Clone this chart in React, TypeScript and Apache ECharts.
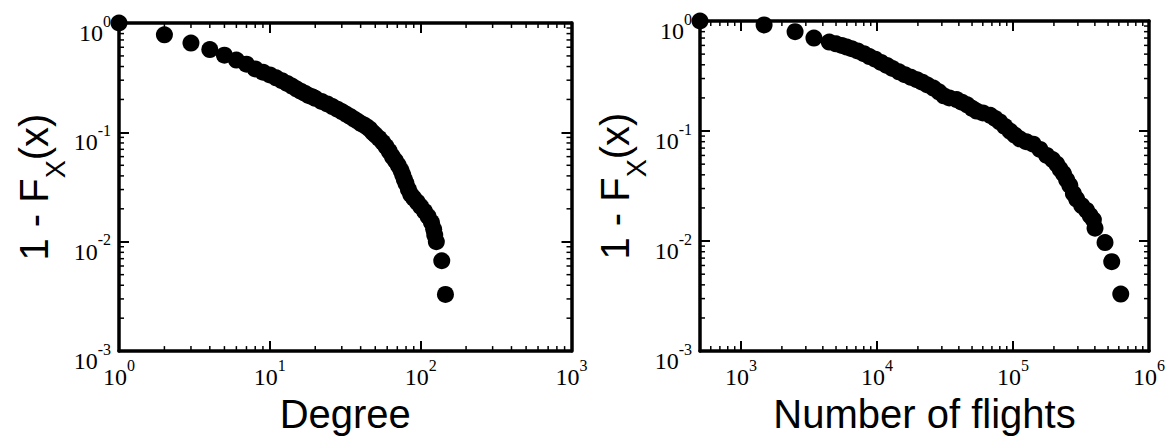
import React, { useEffect, useRef } from "react";
import * as echarts from "echarts";

// ---- data ----
const degreeValues = [
  1, 2, 3, 4, 5, 6, 7, 8, 9, 10, 11, 12, 13, 14, 15, 16, 17, 18, 19, 20, 22, 24, 26, 28, 30, 32, 34, 36, 38,
  40, 42, 44, 46, 48, 50, 53, 56, 59, 62, 65, 68, 71, 74, 76, 78, 80, 83, 86, 90, 95, 100, 106, 112, 118,
  122, 124, 127, 138, 146,
];
const degreeCcdf = [
  1.0, 0.78, 0.655, 0.572, 0.508, 0.458, 0.42, 0.38, 0.355, 0.335, 0.315, 0.297, 0.28, 0.265, 0.25, 0.238,
  0.228, 0.218, 0.212, 0.205, 0.192, 0.182, 0.172, 0.163, 0.155, 0.147, 0.14, 0.133, 0.127, 0.121, 0.117,
  0.112, 0.107, 0.1, 0.095, 0.088, 0.081, 0.074, 0.067, 0.06, 0.055, 0.05, 0.045, 0.041, 0.037, 0.034, 0.03,
  0.027, 0.025, 0.023, 0.021, 0.019, 0.017, 0.015, 0.013, 0.0115, 0.01, 0.0067, 0.0033,
];

const flightValues = [
  500, 1480, 2500, 3440, 4460, 5000, 5500, 6000, 6500, 7200, 8000, 8800, 9700, 10700, 11800, 13000, 14500,
  16000, 17800, 19600, 21500, 23500, 26000, 28500, 31000, 34000, 38500, 42000, 46000, 50000, 54000, 60000,
  68000, 74000, 80000, 87000, 95000, 103000, 112000, 125000, 141000, 158000, 177000, 195000, 210000, 222000,
  235000, 248000, 262000, 278000, 294000, 320000, 348000, 370000, 390000, 401000, 475000, 532000, 620000,
];
const flightCcdf = [
  1.0, 0.92, 0.8, 0.7, 0.643, 0.62, 0.6, 0.58, 0.56, 0.535, 0.505, 0.475, 0.45, 0.42, 0.395, 0.37, 0.345,
  0.325, 0.308, 0.293, 0.278, 0.262, 0.246, 0.227, 0.209, 0.2, 0.193, 0.183, 0.173, 0.161, 0.152, 0.146,
  0.139, 0.13, 0.121, 0.11, 0.1, 0.092, 0.085, 0.08, 0.076, 0.068, 0.06, 0.055, 0.05, 0.045, 0.041, 0.036,
  0.032, 0.027, 0.024, 0.021, 0.019, 0.017, 0.0156, 0.0131, 0.0097, 0.0065, 0.0033,
];

// axis ranges
const leftXRange = [1, 1000];
const rightXRange = [500, 1000000];
const yRange = [0.001, 1];

const xTitleLeft = "Degree";
const xTitleRight = "Number of flights";

// minor tick values (2..9 within each decade of an axis range)
function minorTicks(lo: number, hi: number): number[] {
  const out: number[] = [];
  const multipliers = [2, 3, 4, 5, 6, 7, 8, 9];
  for (let e = Math.floor(Math.log10(lo)); e < Math.ceil(Math.log10(hi)); e++) {
    for (const m of multipliers) {
      const v = m * Math.pow(10, e);
      if (v > lo * 1.0001 && v < hi * 0.9999) out.push(v);
    }
  }
  return out;
}

const serif = "'Liberation Serif', 'Times New Roman', serif";
const sans = "'Liberation Sans', Arial, sans-serif";

function powLabel(v: number): string {
  const l = Math.log10(v);
  const e = Math.round(l);
  if (Math.abs(l - e) > 1e-6) return "";
  return `{b|10}{s|${e}}`;
}

const labelRich = {
  b: { fontFamily: serif, fontSize: 24, color: "#000", lineHeight: 32, verticalAlign: "bottom" },
  s: { fontFamily: serif, fontSize: 16, color: "#000", lineHeight: 12, verticalAlign: "top" },
};

const axisLineStyle = { color: "#000", width: 3.5 };
const majorTick = { show: true, inside: true, length: 10, lineStyle: { color: "#000", width: 2 } };

function makeXAxes(grid: number, range: number[], title: string) {
  const base = {
    gridIndex: grid,
    type: "log",
    logBase: 10,
    min: range[0],
    max: range[1],
    splitLine: { show: false },
    axisLine: { show: true, onZero: false, lineStyle: axisLineStyle },
    axisTick: majorTick,
  };
  return [
    {
      ...base,
      position: "bottom",
      axisLabel: { formatter: powLabel, rich: labelRich, margin: 6, showMinLabel: true, showMaxLabel: true },
      name: title,
      nameLocation: "middle",
      nameGap: 32,
      nameTextStyle: { fontFamily: sans, fontSize: 40, color: "#000" },
    },
    { ...base, position: "top", axisLabel: { show: false } },
  ];
}

const yTitleRich = {
  m: { fontFamily: sans, fontSize: 40, color: "#000", lineHeight: 40, verticalAlign: "top" },
  s: { fontFamily: sans, fontSize: 27, color: "#000", lineHeight: 56, verticalAlign: "bottom" },
};

function makeYAxes(grid: number) {
  const base = {
    gridIndex: grid,
    type: "log",
    logBase: 10,
    min: yRange[0],
    max: yRange[1],
    splitLine: { show: false },
    axisLine: { show: true, onZero: false, lineStyle: axisLineStyle },
    axisTick: majorTick,
  };
  return [
    {
      ...base,
      position: "left",
      axisLabel: {
        formatter: powLabel,
        rich: labelRich,
        margin: 8,
        padding: [12, 0, 0, 0],
        showMinLabel: true,
        showMaxLabel: true,
      },
      name: "{m|1 - F}{s|X}{m|(x)}",
      nameLocation: "middle",
      nameGap: 44,
      nameTextStyle: { rich: yTitleRich },
    },
    { ...base, position: "right", axisLabel: { show: false } },
  ];
}

function minorTickSeries(grid: number, xr: number[]) {
  const data: number[][] = [];
  const xRef = xr[0] * 2;
  const yRef = 0.5;
  for (const v of minorTicks(xr[0], xr[1])) data.push([v, yRef, 0]);
  for (const v of minorTicks(yRange[0], yRange[1])) data.push([xRef, v, 1]);
  return {
    type: "custom",
    xAxisIndex: grid * 2,
    yAxisIndex: grid * 2,
    silent: true,
    z: 1,
    data,
    renderItem: (params: any, api: any) => {
      const cs = params.coordSys;
      const pt = api.coord([api.value(0), api.value(1)]);
      const style = { stroke: "#000", lineWidth: 1.5 };
      const len = 5;
      if (api.value(2) === 0) {
        return {
          type: "group",
          children: [
            { type: "line", shape: { x1: pt[0], y1: cs.y + cs.height, x2: pt[0], y2: cs.y + cs.height - len }, style },
            { type: "line", shape: { x1: pt[0], y1: cs.y, x2: pt[0], y2: cs.y + len }, style },
          ],
        };
      }
      return {
        type: "group",
        children: [
          { type: "line", shape: { x1: cs.x, y1: pt[1], x2: cs.x + len, y2: pt[1] }, style },
          { type: "line", shape: { x1: cs.x + cs.width, y1: pt[1], x2: cs.x + cs.width - len, y2: pt[1] }, style },
        ],
      };
    },
  };
}

export default function App() {
  const ref = useRef<HTMLDivElement>(null);
  useEffect(() => {
    if (!ref.current) return;
    const chart = echarts.init(ref.current, null, { renderer: "svg" });
    const option: any = {
      animation: false,
      backgroundColor: "#fff",
      grid: [
        { left: 119, top: 23, width: 452.5, height: 334 },
        { left: 700, top: 21, width: 449, height: 333 },
      ],
      xAxis: [...makeXAxes(0, leftXRange, xTitleLeft), ...makeXAxes(1, rightXRange, xTitleRight)],
      yAxis: [...makeYAxes(0), ...makeYAxes(1)],
      series: [
        minorTickSeries(0, leftXRange),
        minorTickSeries(1, rightXRange),
        {
          type: "scatter",
          xAxisIndex: 0,
          yAxisIndex: 0,
          symbol: "circle",
          symbolSize: 17,
          itemStyle: { color: "#000", opacity: 1 },
          z: 3,
          data: degreeValues.map((d, i) => [d, degreeCcdf[i]]),
        },
        {
          type: "scatter",
          xAxisIndex: 2,
          yAxisIndex: 2,
          symbol: "circle",
          symbolSize: 17,
          itemStyle: { color: "#000", opacity: 1 },
          z: 3,
          data: flightValues.map((d, i) => [d, flightCcdf[i]]),
        },
      ],
    };
    chart.setOption(option);
    return () => chart.dispose();
  }, []);
  return (
    <div
      ref={ref}
      style={{ position: "fixed", left: 0, top: 0, width: 1176, height: 439, background: "#fff" }}
    />
  );
}
